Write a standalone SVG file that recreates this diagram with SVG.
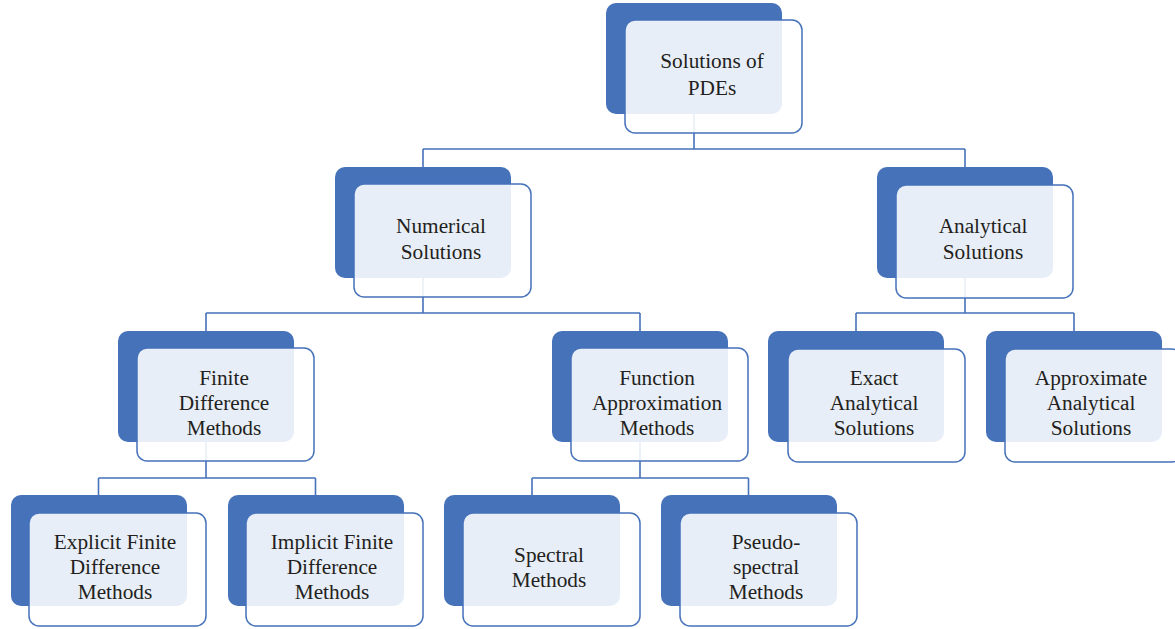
<svg xmlns="http://www.w3.org/2000/svg" width="1175" height="629" viewBox="0 0 1175 629">
<style>
.back{fill:#4672BA;}
.front{fill:#ffffff;fill-opacity:0.88;stroke:#4672BA;stroke-width:1.5;}
.con{fill:none;stroke:#4672BA;stroke-width:1.6;}
text{font-family:"Liberation Serif","Times New Roman",serif;font-size:21.3px;fill:#231F20;text-anchor:middle;}
</style>
<rect width="1175" height="629" fill="#ffffff"/>
<g id="connectors">
<path class="con" d="M694 113V149M423 149H965M423 149V167M965 149V167"/>
<path class="con" d="M423 278V313M206 313H640M206 313V331M640 313V331"/>
<path class="con" d="M965 278V313M856 313H1074M856 313V331M1074 313V331"/>
<path class="con" d="M206 442V478M98.5 478H315.5M98.5 478V495M315.5 478V495"/>
<path class="con" d="M640 442V478M532 478H748.5M532 478V495M748.5 478V495"/>
</g>
<g id="n-top">
<rect class="back" x="606" y="3" width="176" height="111" rx="10"/>
<rect class="front" x="625" y="20" width="177" height="113" rx="10"/>
<text x="712" y="68">Solutions of</text>
<text x="712" y="95">PDEs</text>
</g>
<g id="n-numerical">
<rect class="back" x="335" y="167" width="176" height="111" rx="10"/>
<rect class="front" x="354" y="184" width="177" height="113" rx="10"/>
<text x="441" y="233">Numerical</text>
<text x="441" y="259">Solutions</text>
</g>
<g id="n-analytical">
<rect class="back" x="877" y="167" width="176" height="111" rx="10"/>
<rect class="front" x="896" y="185" width="177" height="113" rx="10"/>
<text x="983" y="233">Analytical</text>
<text x="983" y="259">Solutions</text>
</g>
<g id="n-finite">
<rect class="back" x="118" y="331" width="176" height="111" rx="10"/>
<rect class="front" x="137" y="348" width="177" height="113" rx="10"/>
<text x="224" y="385">Finite</text>
<text x="224" y="410">Difference</text>
<text x="224" y="435">Methods</text>
</g>
<g id="n-function">
<rect class="back" x="552" y="331" width="176" height="111" rx="10"/>
<rect class="front" x="571" y="348" width="177" height="113" rx="10"/>
<text x="657" y="385">Function</text>
<text x="657" y="410">Approximation</text>
<text x="657" y="435">Methods</text>
</g>
<g id="n-exact">
<rect class="back" x="768" y="331" width="176" height="111" rx="10"/>
<rect class="front" x="788" y="349" width="177" height="113" rx="10"/>
<text x="874" y="385">Exact</text>
<text x="874" y="410">Analytical</text>
<text x="874" y="435">Solutions</text>
</g>
<g id="n-approx">
<rect class="back" x="986" y="331" width="176" height="111" rx="10"/>
<rect class="front" x="1005" y="349" width="177" height="113" rx="10"/>
<text x="1091" y="385">Approximate</text>
<text x="1091" y="410">Analytical</text>
<text x="1091" y="435">Solutions</text>
</g>
<g id="n-explicit">
<rect class="back" x="11" y="495" width="176" height="111" rx="10"/>
<rect class="front" x="29" y="513" width="177" height="113" rx="10"/>
<text x="115" y="549">Explicit Finite</text>
<text x="115" y="574">Difference</text>
<text x="115" y="599">Methods</text>
</g>
<g id="n-implicit">
<rect class="back" x="228" y="495" width="176" height="111" rx="10"/>
<rect class="front" x="246" y="513" width="177" height="113" rx="10"/>
<text x="332" y="549">Implicit Finite</text>
<text x="332" y="574">Difference</text>
<text x="332" y="599">Methods</text>
</g>
<g id="n-spectral">
<rect class="back" x="444" y="495" width="176" height="111" rx="10"/>
<rect class="front" x="463" y="513" width="177" height="113" rx="10"/>
<text x="549" y="562">Spectral</text>
<text x="549" y="587">Methods</text>
</g>
<g id="n-pseudo">
<rect class="back" x="661" y="495" width="176" height="111" rx="10"/>
<rect class="front" x="680" y="513" width="177" height="113" rx="10"/>
<text x="766" y="549">Pseudo-</text>
<text x="766" y="574">spectral</text>
<text x="766" y="599">Methods</text>
</g>
</svg>
